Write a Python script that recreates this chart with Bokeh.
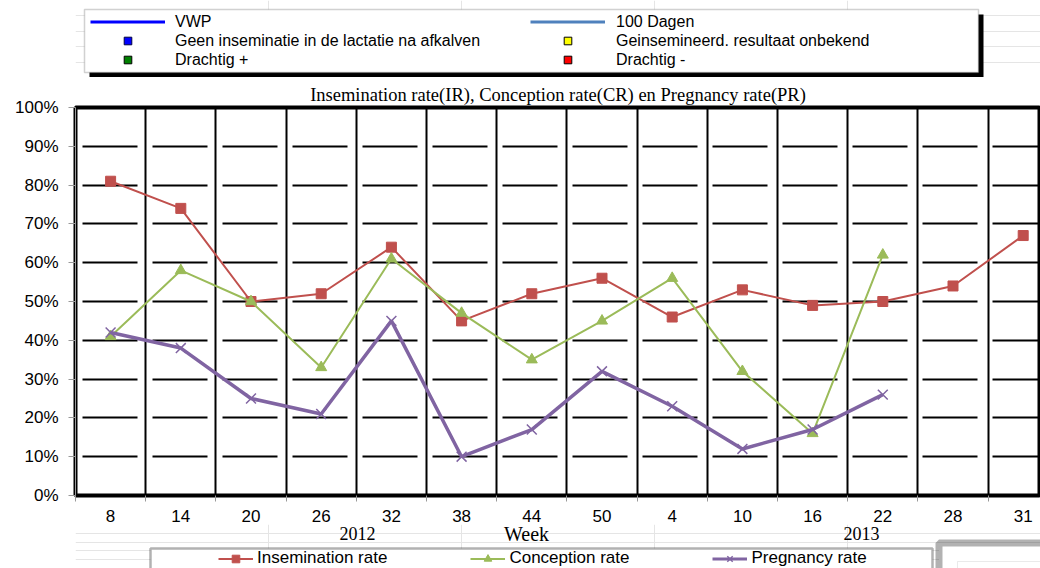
from bokeh.plotting import figure
from bokeh.layouts import column
from bokeh.models import (Range1d, FixedTicker, PrintfTickFormatter, Legend, LegendItem,
                          Label, BoxAnnotation)
from bokeh.embed import file_html
from bokeh.resources import INLINE

# ---------------- data ----------------
weeks = ["8", "14", "20", "26", "32", "38", "44", "50", "4", "10", "16", "22", "28", "31"]
insemination_rate = [81, 74, 50, 52, 64, 45, 52, 56, 46, 53, 49, 50, 54, 67]
conception_rate = [41, 58, 50, 33, 61, 47, 35, 45, 56, 32, 16, 62]
pregnancy_rate = [42, 38, 25, 21, 45, 10, 17, 32, 23, 12, 17, 26]
y_ticks = [0, 10, 20, 30, 40, 50, 60, 70, 80, 90, 100]
series_names = ["Insemination rate", "Conception rate", "Pregnancy rate"]
top_legend_left = ["VWP", "Geen inseminatie in de lactatie na afkalven", "Drachtig +"]
top_legend_right = ["100 Dagen", "Geinsemineerd. resultaat onbekend", "Drachtig -"]
year_labels = ["2012", "2013"]
title_text = "Insemination rate(IR), Conception rate(CR) en Pregnancy rate(PR)"
x_title = "Week"

RED, GREEN, PURPLE = "#C0504D", "#9BBB59", "#8064A2"
SANS, SERIF = "Liberation Sans", "Liberation Serif"
W = 1040
LEFT = 75          # the frames of all three strips are aligned at this x
NAN = [float("nan")]


def bare_figure(height):
    f = figure(width=W, height=height, output_backend="svg", toolbar_location=None,
               x_range=Range1d(0, 1), y_range=Range1d(0, 1),
               x_axis_location=None, y_axis_location=None,
               min_border_left=LEFT, min_border_right=0,
               min_border_top=0, min_border_bottom=0)
    f.outline_line_color = None
    f.background_fill_color = "white"
    f.border_fill_color = "white"
    return f


def sx(x_img):
    return x_img - LEFT


def box(f, sy, left, right, top, bottom, **kw):
    f.add_layout(BoxAnnotation(left=sx(left), right=sx(right), top=sy(top), bottom=sy(bottom),
                               left_units="screen", right_units="screen",
                               top_units="screen", bottom_units="screen", **kw))


legend_common = dict(padding=0, margin=0, spacing=0, border_line_color=None,
                     background_fill_alpha=0, label_text_font=SANS,
                     label_text_font_size="16px", label_text_color="black")

# ================= top strip: status legend =================
HA = 77
fa = bare_figure(HA)


def sya(y_img):
    return HA - y_img


vwp = fa.line(NAN, NAN, line_color="#0000FF", line_width=3)
dagen = fa.line(NAN, NAN, line_color="#4F81BD", line_width=3)
geen = fa.scatter(NAN, NAN, marker="square", size=8, fill_color="#0000FF", line_color="#000040")
onbekend = fa.scatter(NAN, NAN, marker="square", size=8, fill_color="#FFFF00", line_color="#000000")
drachtig_p = fa.scatter(NAN, NAN, marker="square", size=8, fill_color="#008000", line_color="#000000")
drachtig_m = fa.scatter(NAN, NAN, marker="square", size=8, fill_color="#FF0000", line_color="#000000")

box(fa, sya, 89, 983, 14, 77, fill_color="black", fill_alpha=1, line_color=None)
box(fa, sya, 84, 978, 9, 72, fill_color="white", fill_alpha=1, line_color="#666666", line_width=1.5)

leg_a = Legend(items=[LegendItem(label=top_legend_left[0], renderers=[vwp]),
                      LegendItem(label=top_legend_left[1], renderers=[geen]),
                      LegendItem(label=top_legend_left[2], renderers=[drachtig_p])],
               location=(sx(90), sya(69)), orientation="vertical",
               glyph_width=75, glyph_height=19, label_height=19, label_standoff=10,
               **legend_common)
leg_b = Legend(items=[LegendItem(label=top_legend_right[0], renderers=[dagen]),
                      LegendItem(label=top_legend_right[1], renderers=[onbekend]),
                      LegendItem(label=top_legend_right[2], renderers=[drachtig_m])],
               location=(sx(530), sya(69)), orientation="vertical",
               glyph_width=75, glyph_height=19, label_height=19, label_standoff=11,
               **legend_common)
fa.add_layout(leg_a, "center")
fa.add_layout(leg_b, "center")

# ================= main chart =================
HB = 447
TOP, BOTTOM = 30, 29
frame_w = W - LEFT
cell = 70.2

x_all = list(range(len(weeks)))
x_cr = x_all[:len(conception_rate)]
x_pr = x_all[:len(pregnancy_rate)]

p = figure(width=W, height=HB, output_backend="svg", toolbar_location=None,
           x_range=Range1d(-0.5, -0.5 + frame_w / cell), y_range=Range1d(0, 100),
           min_border_left=LEFT, min_border_right=0, min_border_top=TOP,
           min_border_bottom=BOTTOM, title=title_text)
p.background_fill_color = "white"
p.border_fill_color = "white"
p.outline_line_color = "black"
p.outline_line_width = 4

p.title.align = "center"
p.title.offset = 6
p.title.standoff = 6
p.title.text_font = SERIF
p.title.text_font_size = "18.5px"
p.title.text_font_style = "normal"
p.title.text_color = "black"

p.xgrid.ticker = FixedTicker(ticks=[i + 0.5 for i in x_all])
p.xgrid.grid_line_color = "black"
p.xgrid.grid_line_width = 2
p.ygrid.ticker = FixedTicker(ticks=y_ticks[1:-1])
p.ygrid.grid_line_color = "black"
p.ygrid.grid_line_width = 2
p.ygrid.grid_line_dash = "55 15"
p.ygrid.grid_line_dash_offset = 63

p.xaxis.ticker = FixedTicker(ticks=x_all, minor_ticks=[i - 0.5 for i in x_all] + [len(x_all) - 0.5])
p.xaxis.major_label_overrides = {i: w for i, w in enumerate(weeks)}
p.xaxis.major_tick_out = 0
p.xaxis.major_tick_in = 0
p.xaxis.minor_tick_out = 6
p.xaxis.minor_tick_in = 0
p.xaxis.minor_tick_line_color = "#999999"
p.xaxis.axis_line_color = "black"
p.xaxis.axis_line_width = 2
p.xaxis.major_label_standoff = 8
p.xaxis.major_label_text_font = SANS
p.xaxis.major_label_text_font_size = "17px"
p.xaxis.major_label_text_color = "black"

p.yaxis.ticker = FixedTicker(ticks=y_ticks)
p.yaxis.formatter = PrintfTickFormatter(format="%d%%")
p.yaxis.major_tick_out = 7
p.yaxis.major_tick_in = 0
p.yaxis.minor_tick_out = 0
p.yaxis.major_tick_line_color = "#999999"
p.yaxis.axis_line_color = "#999999"
p.yaxis.major_label_standoff = 10
p.yaxis.major_label_text_font = SANS
p.yaxis.major_label_text_font_size = "17px"
p.yaxis.major_label_text_color = "black"

p.line(x_all, insemination_rate, line_color=RED, line_width=2)
p.scatter(x_all, insemination_rate, marker="square", size=10, fill_color=RED, line_color=RED)
p.line(x_cr, conception_rate, line_color=GREEN, line_width=2)
p.scatter(x_cr, conception_rate, marker="triangle", size=11, fill_color=GREEN, line_color=GREEN)
p.line(x_pr, pregnancy_rate, line_color=PURPLE, line_width=3.5)
p.scatter(x_pr, pregnancy_rate, marker="x", size=14, line_color=PURPLE, line_width=1.5)

# ================= bottom strip: axis title, years, series legend =================
HC = 568 - HA - HB
fc = bare_figure(HC)


def syc(y_img):
    return 568 - y_img


fc.add_layout(Label(x=sx(526), y=syc(533), x_units="screen", y_units="screen", text=x_title,
                    text_align="center", text_baseline="middle", text_font=SERIF,
                    text_font_size="20px", text_color="black"))
for txt, cx in zip(year_labels, [357, 861]):
    fc.add_layout(Label(x=sx(cx), y=syc(533), x_units="screen", y_units="screen", text=txt,
                        text_align="center", text_baseline="middle", text_font=SERIF,
                        text_font_size="18px", text_color="black"))

box(fc, syc, 150, 932, 548, 600, fill_color="white", fill_alpha=1,
    line_color="black", line_width=2.5)
box(fc, syc, 938.5, 1200, 542.5, 620, fill_color="white", fill_alpha=1,
    line_color="black", line_width=7)
box(fc, syc, 957, 1200, 561, 620, fill_alpha=0, line_color="#BBBBBB", line_width=1)

ir_d = fc.line(NAN, NAN, line_color=RED, line_width=2)
ir_m = fc.scatter(NAN, NAN, marker="square", size=8, fill_color=RED, line_color=RED)
cr_d = fc.line(NAN, NAN, line_color=GREEN, line_width=2)
cr_m = fc.scatter(NAN, NAN, marker="triangle", size=8, fill_color=GREEN, line_color=GREEN)
pr_d = fc.line(NAN, NAN, line_color=PURPLE, line_width=3)
pr_m = fc.scatter(NAN, NAN, marker="x", size=10, line_color=PURPLE, line_width=1.5)

bottom_common = dict(legend_common)
bottom_common.update(spacing=83, label_text_font_size="17px")
leg_c = Legend(items=[LegendItem(label=series_names[0], renderers=[ir_d, ir_m]),
                      LegendItem(label=series_names[1], renderers=[cr_d, cr_m]),
                      LegendItem(label=series_names[2], renderers=[pr_d, pr_m])],
               location=(sx(218), syc(568)), orientation="horizontal",
               glyph_width=35, glyph_height=19, label_height=19, label_standoff=4,
               **bottom_common)
fc.add_layout(leg_c, "center")

layout = column(fa, p, fc, spacing=0)
open("out.html", "w").write(file_html(layout, INLINE))
